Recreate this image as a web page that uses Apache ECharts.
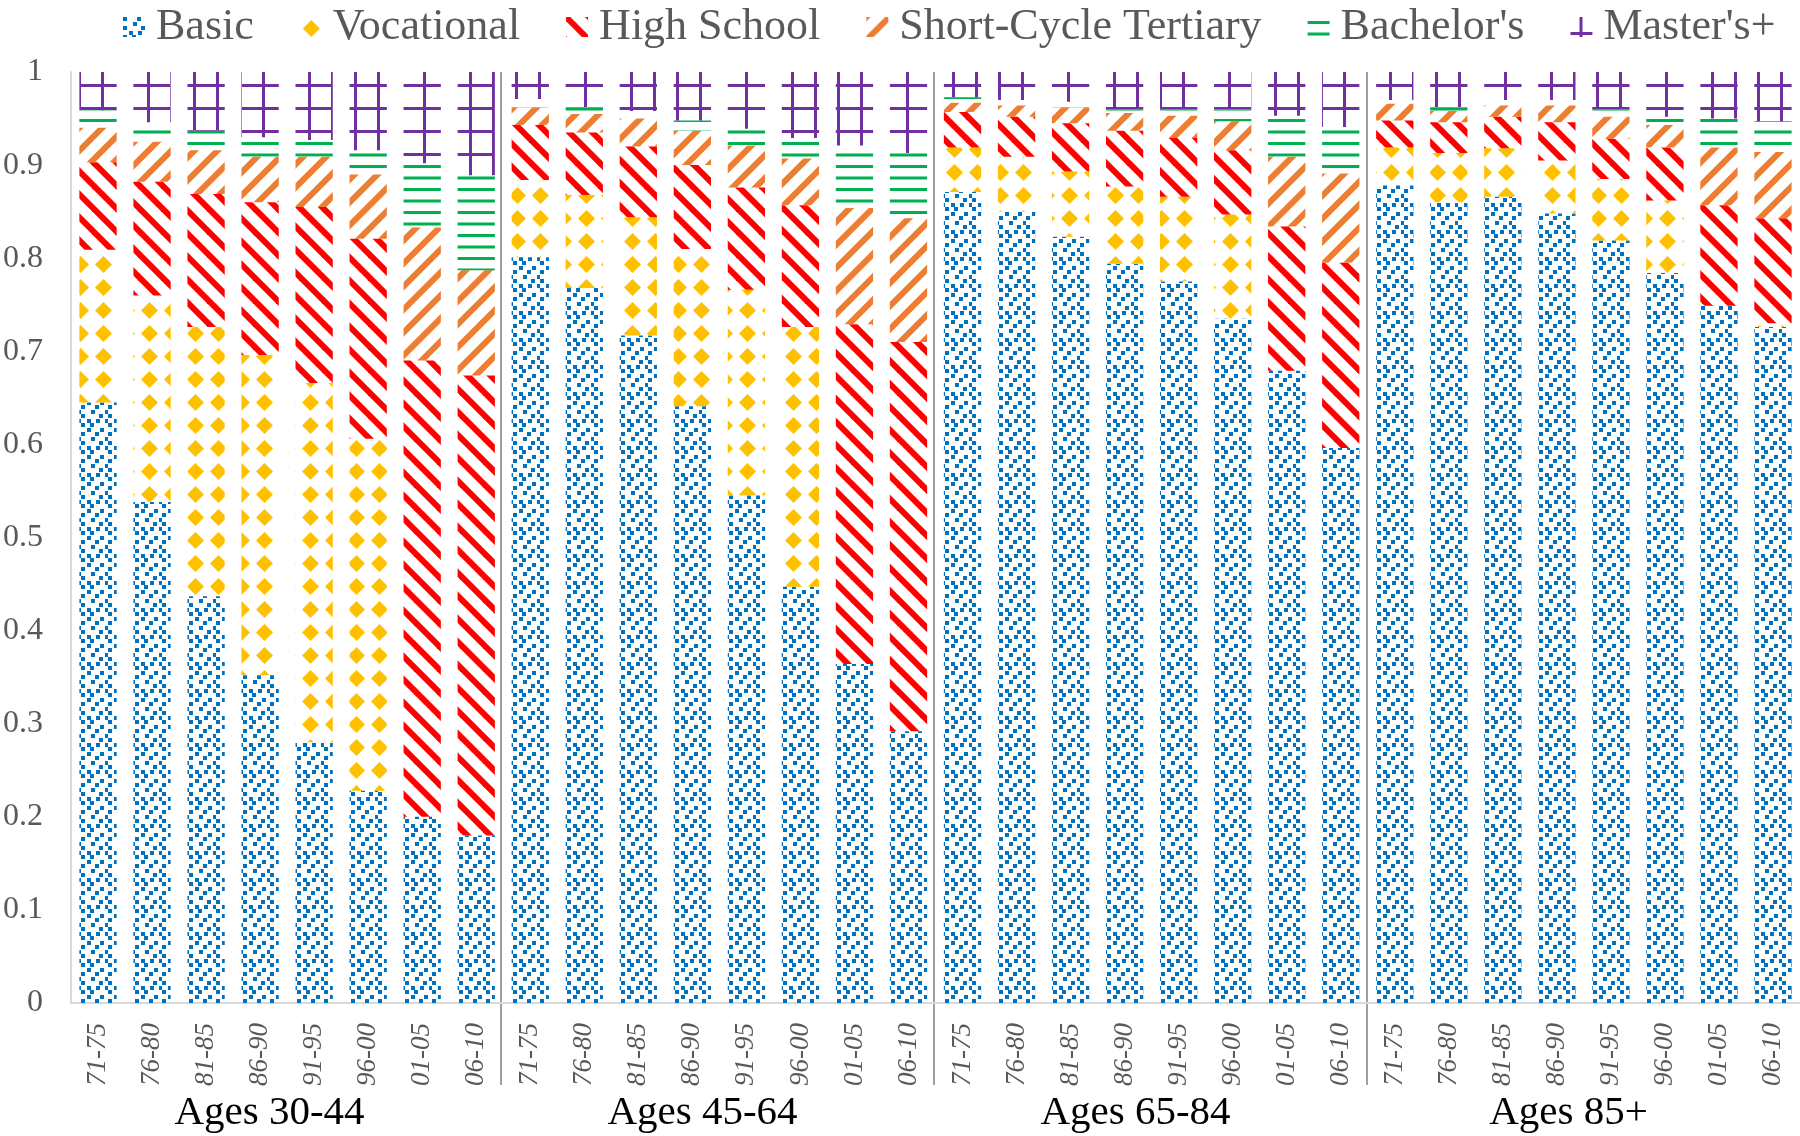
<!DOCTYPE html>
<html>
<head>
<meta charset="utf-8">
<script src="https://cdn.jsdelivr.net/npm/echarts@6/dist/echarts.min.js"></script>
<style>
  html, body { margin: 0; padding: 0; background: #fff; }
  #chart { width: 1800px; height: 1136px; }
</style>
</head>
<body>
<div id="chart"></div>
<script>
// categories
var groups = ['Ages 30-44', 'Ages 45-64', 'Ages 65-84', 'Ages 85+'];
var periods = ['71-75', '76-80', '81-85', '86-90', '91-95', '96-00', '01-05', '06-10'];
var seriesNames = ['Basic', 'Vocational', 'High School', 'Short-Cycle Tertiary', "Bachelor's", "Master's+"];

// shares per bar, 8 periods for each age group in turn
var basic = [
  0.645, 0.538, 0.437, 0.352, 0.280, 0.228, 0.200, 0.180,
  0.801, 0.768, 0.717, 0.641, 0.545, 0.447, 0.364, 0.292,
  0.871, 0.850, 0.823, 0.794, 0.775, 0.735, 0.679, 0.596,
  0.878, 0.860, 0.866, 0.848, 0.819, 0.784, 0.749, 0.726
];
var vocational = [
  0.164, 0.222, 0.289, 0.344, 0.386, 0.378, 0, 0,
  0.083, 0.100, 0.127, 0.169, 0.221, 0.279, 0, 0,
  0.048, 0.059, 0.070, 0.083, 0.091, 0.112, 0, 0,
  0.041, 0.053, 0.052, 0.057, 0.066, 0.078, 0, 0.004
];
var highSchool = [
  0.094, 0.122, 0.143, 0.164, 0.189, 0.215, 0.490, 0.494,
  0.059, 0.067, 0.076, 0.090, 0.110, 0.131, 0.365, 0.418,
  0.038, 0.043, 0.052, 0.060, 0.063, 0.069, 0.155, 0.199,
  0.029, 0.033, 0.034, 0.041, 0.043, 0.057, 0.108, 0.113
];
var shortCycle = [
  0.037, 0.043, 0.047, 0.049, 0.054, 0.069, 0.143, 0.113,
  0.019, 0.020, 0.030, 0.037, 0.045, 0.050, 0.125, 0.133,
  0.010, 0.012, 0.017, 0.019, 0.024, 0.031, 0.075, 0.096,
  0.018, 0.012, 0.012, 0.018, 0.024, 0.024, 0.062, 0.071
];
var bachelors = [
  0.019, 0.021, 0.021, 0.021, 0.018, 0.026, 0.069, 0.102,
  0.009, 0.007, 0.008, 0.011, 0.018, 0.022, 0.067, 0.070,
  0.006, 0.006, 0.006, 0.004, 0.007, 0.013, 0.044, 0.050,
  0.004, 0.004, 0.006, 0.006, 0.008, 0.009, 0.031, 0.033
];
var masters = [
  0.041, 0.054, 0.063, 0.070, 0.073, 0.084, 0.098, 0.111,
  0.029, 0.038, 0.042, 0.052, 0.061, 0.071, 0.079, 0.087,
  0.027, 0.030, 0.032, 0.040, 0.040, 0.040, 0.047, 0.059,
  0.030, 0.038, 0.030, 0.030, 0.040, 0.048, 0.050, 0.053
];

// x labels: the 8 periods repeated for each age group
var categories = [];
groups.forEach(function () {
  periods.forEach(function (p) { categories.push(p); });
});

// pattern tiles (excel style fills)
var T = 23;
function tile(size, draw) {
  var c = document.createElement('canvas');
  c.width = size; c.height = size;
  var ctx = c.getContext('2d');
  draw(ctx);
  return { image: c, repeat: 'repeat' };
}

// confetti: 6x6 cells of 4.5px, columns filled per row
var confettiDots = [[0, 3], [2, 5], [0, 4], [1, 3, 5], [0, 2], [4, 1]];
var basicFill = tile(27, function (ctx) {
  ctx.fillStyle = '#0070C0';
  confettiDots.forEach(function (cols, row) {
    cols.forEach(function (col) {
      ctx.fillRect(Math.round(col * 4.5) + (row % 2), Math.round(row * 4.5), 4, 4);
    });
  });
});

var vocFill = tile(T, function (ctx) {
  ctx.fillStyle = '#FFC000';
  var m = T / 2, r = 8.5, k = 2.5;
  ctx.beginPath();
  ctx.moveTo(m - k, m - r + k); ctx.lineTo(m, m - r); ctx.lineTo(m + k, m - r + k);
  ctx.lineTo(m + r - k, m - k); ctx.lineTo(m + r, m); ctx.lineTo(m + r - k, m + k);
  ctx.lineTo(m + k, m + r - k); ctx.lineTo(m, m + r); ctx.lineTo(m - k, m + r - k);
  ctx.lineTo(m - r + k, m + k); ctx.lineTo(m - r, m); ctx.lineTo(m - r + k, m - k);
  ctx.closePath();
  ctx.fill();
});

var hsFill = tile(T, function (ctx) {
  ctx.strokeStyle = '#FF0000';
  ctx.lineWidth = 6;
  [-T, 0, T].forEach(function (c) {
    ctx.beginPath();
    ctx.moveTo(-T, -T - c); ctx.lineTo(2 * T, 2 * T - c);
    ctx.stroke();
  });
});

var scFill = tile(T, function (ctx) {
  ctx.strokeStyle = '#ED7D31';
  ctx.lineWidth = 6;
  [0, T, 2 * T].forEach(function (c) {
    ctx.beginPath();
    ctx.moveTo(-T, c + T); ctx.lineTo(2 * T, c - 2 * T);
    ctx.stroke();
  });
});

var bachFill = tile(T, function (ctx) {
  ctx.fillStyle = '#00B050';
  ctx.fillRect(0, 4, T, 3);
  ctx.fillRect(0, 15.5, T, 3);
});

var mastFill = tile(T, function (ctx) {
  ctx.fillStyle = '#7030A0';
  ctx.fillRect(0, 15, T, 3);
  ctx.fillRect(9, 0, 3, T);
});

var fills = [basicFill, vocFill, hsFill, scFill, bachFill, mastFill];
var values = [basic, vocational, highSchool, shortCycle, bachelors, masters];

var serif = '"Liberation Serif", "DejaVu Serif", serif';

var myChart = echarts.init(document.getElementById('chart'));

var series = seriesNames.map(function (name, i) {
  return {
    name: name,
    type: 'bar',
    stack: 'total',
    barCategoryGap: '31%',
    xAxisIndex: 0,
    yAxisIndex: 0,
    data: values[i],
    itemStyle: { color: fills[i] },
    emphasis: { disabled: true },
    animation: false
  };
});

var option = {
  animation: false,
  legend: {
    data: seriesNames,
    icon: 'rect',
    left: 118,
    top: 0,
    itemWidth: 22,
    itemHeight: 20,
    itemGap: 46,
    textStyle: {
      fontFamily: serif,
      fontSize: 44,
      color: '#595959',
      padding: [0, 0, 0, 6]
    }
  },
  grid: [
    { left: 68, right: 0, top: 72, bottom: 133 },
    { left: 68, right: 0, top: 72, bottom: 51 }
  ],
  xAxis: [
    {
      type: 'category',
      gridIndex: 0,
      data: categories,
      axisLine: { show: true, lineStyle: { color: '#d9d9d9', width: 2 } },
      axisTick: { show: false },
      axisLabel: {
        interval: 0,
        rotate: 90,
        margin: 20,
        fontFamily: serif,
        fontStyle: 'italic',
        fontSize: 27,
        color: '#595959'
      }
    },
    {
      // age groups: separators and group titles
      type: 'category',
      gridIndex: 1,
      data: groups,
      axisLine: { show: false },
      axisTick: { show: false },
      splitLine: {
        show: true,
        showMinLine: false,
        showMaxLine: false,
        lineStyle: { color: '#7f7f7f', width: 1.5 }
      },
      axisLabel: {
        margin: 8,
        padding: [0, 30, 0, 0],
        fontFamily: serif,
        fontSize: 41,
        color: '#000'
      }
    }
  ],
  yAxis: [
    {
      type: 'value',
      gridIndex: 0,
      min: 0,
      max: 1,
      interval: 0.1,
      axisLine: { show: true, lineStyle: { color: '#d9d9d9', width: 2 } },
      axisTick: { show: false },
      splitLine: { show: false },
      axisLabel: {
        margin: 28,
        fontFamily: serif,
        fontSize: 32,
        color: '#595959'
      }
    },
    { type: 'value', gridIndex: 1, show: false, min: 0, max: 1 }
  ],
  series: series
};

myChart.setOption(option);
</script>
</body>
</html>
